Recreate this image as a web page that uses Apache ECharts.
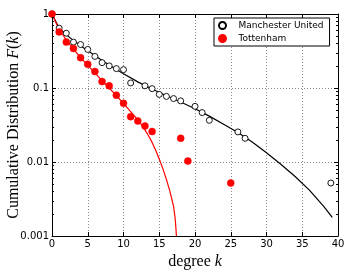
<!DOCTYPE html>
<html><head><meta charset="utf-8">
<script src="https://cdn.jsdelivr.net/npm/echarts@6/dist/echarts.min.js"></script>
<style>html,body{margin:0;padding:0;background:#fff}#c{width:354px;height:280px}</style>
</head><body><div id="c"></div>
<script>
// ---- data ----
const degreesMU = [0,1,2,3,4,5,6,7,8,9,10,11,13,14,15,16,17,18,20,21,22,26,27,39];
const cdfMU = [1,0.643,0.55,0.417,0.387,0.332,0.267,0.22,0.199,0.183,0.177,0.117,0.107,0.098,0.082,0.077,0.072,0.067,0.0565,0.0465,0.0366,0.0255,0.0209,0.0052];
const degreesTOT = [0,1,2,3,4,5,6,7,8,9,10,11,12,13,14,18,19,25];
const cdfTOT = [1,0.573,0.417,0.342,0.257,0.209,0.167,0.122,0.107,0.08,0.062,0.041,0.0359,0.0307,0.0258,0.0209,0.0103,0.0052];
const fitDegMU = [0,1,2,3,4,5,6,7,8,9,10,12,14,16,18,20,22,24,26,28,30,32,34,36,38,39.2];
const fitMU = [1,0.646,0.525,0.437,0.372,0.319,0.274,0.236,0.204,0.178,0.156,0.121,0.097,0.0785,0.0646,0.0525,0.0417,0.0324,0.0251,0.0186,0.0133,0.00933,0.00638,0.00417,0.00251,0.00178];
const fitDegTOT = [0,0.5,1,2,3,4,5,6,7,8,9,10,11,12,12.5,13,13.5,14,14.5,15,15.5,16,16.5,17,17.2,17.3,17.4];
const fitTOT = [1,0.78,0.619,0.445,0.335,0.258,0.202,0.16,0.126,0.1,0.079,0.062,0.048,0.037,0.032,0.0272,0.02265,0.0184,0.01445,0.01096,0.00813,0.00582,0.00398,0.00251,0.00182,0.00141,0.001];
const yTickLabels = {'0':'1','-1':'0.1','-2':'0.01','-3':'0.001'};
const yMinor = [0.002,0.003,0.004,0.005,0.006,0.007,0.008,0.009,0.02,0.03,0.04,0.05,0.06,0.07,0.08,0.09,0.2,0.3,0.4,0.5,0.6,0.7,0.8,0.9];
const seriesNames = ['Manchester United','Tottenham'];

const zip = (a,b)=>a.map((v,i)=>[v,b[i]]);
const chart = echarts.init(document.getElementById('c'), null, {renderer:'canvas'});
const tickFont = {fontFamily:'DejaVu Sans', fontSize:10, color:'#000'};
const ylab = v => yTickLabels[String(Math.round(Math.log10(v)))] || '';
const nameRich = {rich:{a:{fontFamily:'Liberation Serif', fontSize:16, color:'#000'}, b:{fontFamily:'Liberation Serif', fontStyle:'italic', fontSize:16, color:'#000'}}};

chart.setOption({
  animation:false,
  backgroundColor:'#fff',
  grid:{left:52, top:14, width:286, height:222, containLabel:false, outerBoundsMode:'none'},
  legend:{
    data: seriesNames, orient:'vertical', left:214, top:18,
    backgroundColor:'#fff', borderColor:'#000', borderWidth:1, borderRadius:0,
    padding:[3,6,3,4], itemGap:4, itemWidth:22, itemHeight:7,
    textStyle:{fontFamily:'DejaVu Sans', fontSize:9, color:'#000'}
  },
  xAxis:[{
    type:'value', min:0, max:40, interval:5, position:'bottom',
    axisLine:{show:true, onZero:false, lineStyle:{color:'#000', width:1}},
    axisTick:{show:true, inside:true, length:4, lineStyle:{color:'#000'}},
    axisLabel:Object.assign({margin:3}, tickFont),
    splitLine:{show:true, lineStyle:{color:'#888', type:[1,2], width:1}},
    name:'{a|degree }{b|k}', nameLocation:'middle', nameGap:17, nameTextStyle:nameRich
  },{
    type:'value', min:0, max:40, interval:5, position:'top',
    axisLine:{show:true, onZero:false, lineStyle:{color:'#000', width:1}},
    axisTick:{show:true, inside:true, length:4, lineStyle:{color:'#000'}},
    axisLabel:{show:false}, splitLine:{show:false}
  }],
  yAxis:[{
    type:'log', logBase:10, min:0.001, max:1, splitNumber:3, position:'left',
    axisLine:{show:true, onZero:false, lineStyle:{color:'#000', width:1}},
    axisTick:{show:true, inside:true, length:4, lineStyle:{color:'#000'}},
    axisLabel:Object.assign({margin:3, formatter:ylab}, tickFont),
    splitLine:{show:true, lineStyle:{color:'#888', type:[1,2], width:1}},
    name:'{a|Cumulative Distribution }{b|F}{a|(}{b|k}{a|)}', nameLocation:'middle', nameGap:30, nameRotate:90,
    nameMoveOverlap:false, nameTextStyle:nameRich
  },{
    type:'log', logBase:10, min:0.001, max:1, splitNumber:3, position:'right',
    axisLine:{show:true, onZero:false, lineStyle:{color:'#000', width:1}},
    axisTick:{show:true, inside:true, length:4, lineStyle:{color:'#000'}},
    axisLabel:{show:false}, splitLine:{show:false}
  }],
  series:[
    {name:'fitMU', type:'line', data:zip(fitDegMU, fitMU), showSymbol:false, symbol:'none',
      lineStyle:{color:'#000', width:1.2}, z:2, silent:true},
    {name:'fitTOT', type:'line', data:zip(fitDegTOT, fitTOT), showSymbol:false, symbol:'none',
      lineStyle:{color:'#ff0000', width:1.2}, z:2, silent:true},
    {name:seriesNames[0], type:'scatter', data:zip(degreesMU, cdfMU), symbol:'circle', symbolSize:6,
      itemStyle:{color:'#fff', borderColor:'#000', borderWidth:0.9, opacity:1}, z:3},
    {name:seriesNames[1], type:'scatter', data:zip(degreesTOT, cdfTOT), symbol:'circle', symbolSize:7,
      itemStyle:{color:'#ff0000', borderColor:'#ff0000', borderWidth:0.5, opacity:1}, z:4},
    {name:'minorTicks', type:'custom', data:yMinor.map(v=>[0,v]), silent:true, clip:false, z:5,
      renderItem:function(params, api){
        const p = api.coord([0, api.value(1)]);
        const cs = params.coordSys;
        const y = Math.round(p[1]) + 0.5;
        const len = 2;
        return {type:'group', children:[
          {type:'line', shape:{x1:cs.x, y1:y, x2:cs.x+len, y2:y}, style:{stroke:'#000', lineWidth:1}},
          {type:'line', shape:{x1:cs.x+cs.width, y1:y, x2:cs.x+cs.width-len, y2:y}, style:{stroke:'#000', lineWidth:1}}
        ]};
      }}
  ]
});
</script></body></html>
